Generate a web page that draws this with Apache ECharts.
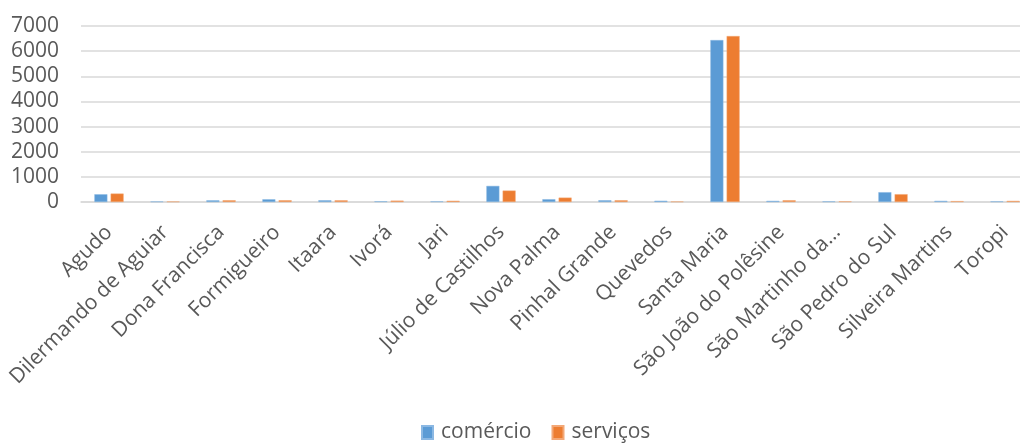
<!DOCTYPE html>
<html>
<head>
<meta charset="utf-8">
<script src="https://cdn.jsdelivr.net/npm/echarts@6/dist/echarts.min.js"></script>
<style>
  html, body { margin: 0; padding: 0; background: #fff; }
  #chart { width: 1020px; height: 445px; }
</style>
</head>
<body>
<div id="chart"></div>
<script>
// Municípios (rótulos do eixo)
const municipios = [
  'Agudo', 'Dilermando de Aguiar', 'Dona Francisca', 'Formigueiro', 'Itaara',
  'Ivorá', 'Jari', 'Júlio de Castilhos', 'Nova Palma', 'Pinhal Grande',
  'Quevedos', 'Santa Maria', 'São João do Polêsine', 'São Martinho da…',
  'São Pedro do Sul', 'Silveira Martins', 'Toropi'
];

// Estabelecimentos por setor
const comercio = [308, 20, 68, 108, 70, 28, 25, 640, 110, 70, 50, 6440, 45, 25, 390, 45, 25];
const servicos = [336, 20, 70, 70, 68, 55, 50, 455, 175, 70, 20, 6600, 70, 25, 310, 35, 45];

// Escala do eixo de valores
const yMin = 0, yMax = 7000, yStep = 1000;

const font = '"Open Sans", "Noto Sans", sans-serif';
const textColor = '#595959';
const gridColor = '#d9d9d9';

const chart = echarts.init(document.getElementById('chart'), null, { renderer: 'canvas' });
chart.setOption({
  animation: false,
  textStyle: { fontFamily: font },
  grid: {
    left: 81, top: 26, width: 952, bottom: 243,
    containLabel: false,
    outerBoundsMode: 'none'
  },
  legend: {
    bottom: -3,
    left: 416,
    itemWidth: 11,
    itemHeight: 13,
    itemGap: 20,
    icon: 'rect',
    textStyle: { fontFamily: font, fontSize: 21, color: textColor, padding: [0, 0, 0, 3] },
    data: ['comércio', 'serviços']
  },
  xAxis: {
    type: 'category',
    data: municipios,
    boundaryGap: true,
    axisLine: { show: true, lineStyle: { color: gridColor, width: 1.5 } },
    axisTick: { show: false },
    axisLabel: {
      interval: 0,
      rotate: 45,
      margin: 27,
      fontFamily: font,
      fontSize: 21,
      color: textColor
    }
  },
  yAxis: {
    type: 'value',
    min: yMin,
    max: yMax,
    interval: yStep,
    axisLine: { show: false },
    axisTick: { show: false },
    splitLine: { lineStyle: { color: gridColor, width: 1.5 } },
    axisLabel: {
      margin: 22,
      fontFamily: font,
      fontSize: 21,
      color: textColor,
      formatter: v => String(v)
    }
  },
  series: [
    {
      name: 'comércio',
      type: 'bar',
      data: comercio,
      barWidth: 13,
      barGap: '25%',
      itemStyle: { color: '#5b9bd5', borderColor: '#8bb8e3', borderWidth: 0.5 }
    },
    {
      name: 'serviços',
      type: 'bar',
      data: servicos,
      barWidth: 13,
      barGap: '25%',
      itemStyle: { color: '#ed7d31', borderColor: '#f3a877', borderWidth: 0.5 }
    }
  ]
});
</script>
</body>
</html>
